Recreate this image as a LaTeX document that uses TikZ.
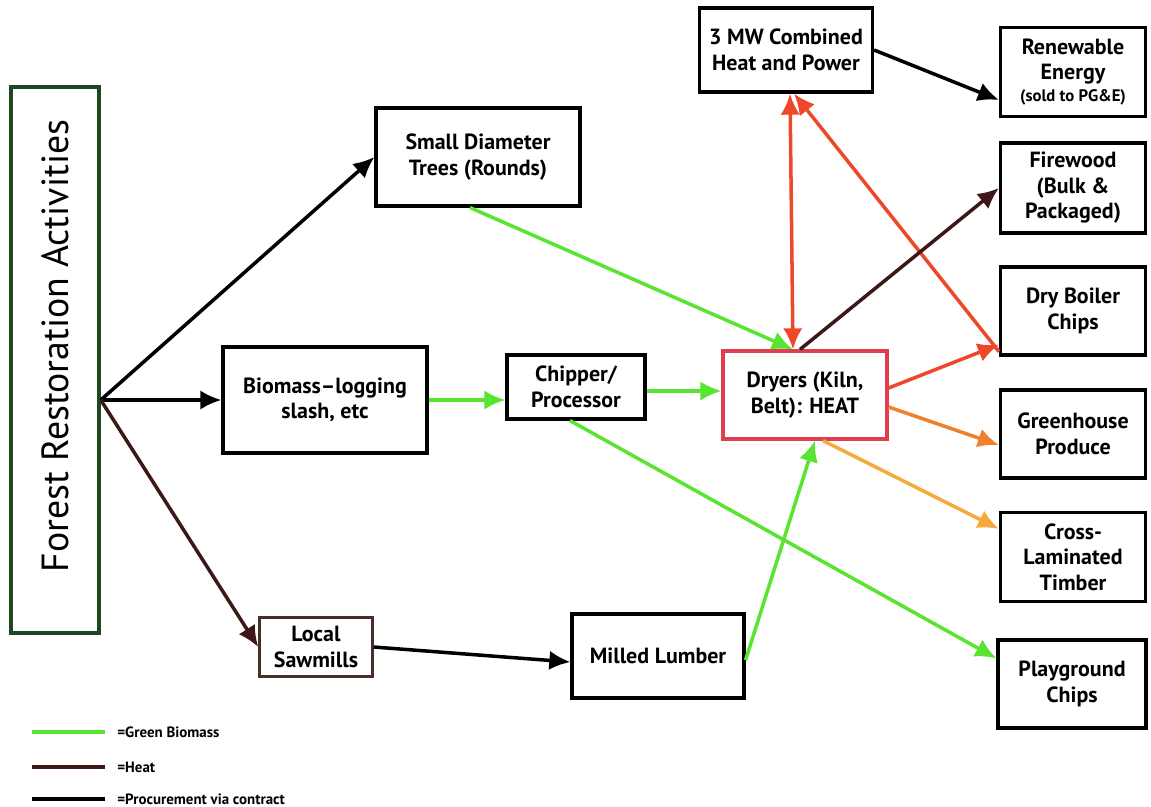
\documentclass[tikz,border=0pt]{standalone}
\usepackage{fontspec}
\setmainfont{PT Sans}
\usetikzlibrary{arrows.meta,calc}

\newlength{\upx}
\setlength{\upx}{0.02cm}

\definecolor{biogreen}{RGB}{88,228,48}
\definecolor{heatred}{RGB}{238,72,42}
\definecolor{heatorange}{RGB}{240,128,42}
\definecolor{lightorange}{RGB}{246,170,62}
\definecolor{heatbrown}{RGB}{62,24,22}
\definecolor{forestgreen}{RGB}{32,72,32}
\definecolor{dryerred}{RGB}{222,62,78}

\tikzset{
  box/.style={draw, line width=1.8pt, align=center, inner sep=2pt,
    font=\bfseries\fontsize{12.5}{14.5}\selectfont},
  arr/.style={line width=2pt, ->},
  legtext/.style={anchor=west, inner sep=0pt, font=\bfseries\fontsize{8.5}{9}\selectfont}
}

\begin{document}
\begin{tikzpicture}[x=0.02cm, y=-0.02cm, >={Latex[length=12pt,width=11pt]}]
\useasboundingbox (0,0) rectangle (1151,806);

\node[box, draw=forestgreen, line width=2pt, rotate=90, minimum width=546\upx, minimum height=88\upx,
  font=\fontsize{21.5}{23}\selectfont] (forest) at (55,360) {\hspace*{28\upx}Forest Restoration Activities};
\node[box, minimum width=204\upx, minimum height=98\upx] (small) at (478,157) {Small Diameter\\Trees (Rounds)};
\node[box, minimum width=204\upx, minimum height=106\upx] (biomass) at (325,400) {Biomass--logging\\slash, etc};
\node[box, minimum width=138\upx, minimum height=64\upx] (chipper) at (576,387) {Chipper/\\Processor};
\node[box, draw=dryerred, minimum width=164\upx, minimum height=88\upx] (dryers) at (805,395) {Dryers (Kiln,\\Belt): HEAT};
\node[box, draw=heatbrown!80!gray, line width=1.4pt, minimum width=113\upx, minimum height=59\upx] (sawmills) at (316,647) {Local\\Sawmills};
\node[box, minimum width=172\upx, minimum height=84\upx] (lumber) at (658,656) {Milled Lumber};
\node[box, minimum width=173\upx, minimum height=84\upx] (chp) at (786,50) {3 MW Combined\\Heat and Power};

\node[box, minimum width=145\upx, minimum height=89\upx] (renew) at (1073,72) {Renewable\\Energy\\[-2pt]{\fontsize{9.5}{10}\selectfont (sold to PG\&E)}};
\node[box, minimum width=145\upx, minimum height=90\upx] (fire) at (1073,188) {Firewood\\(Bulk \&\\Packaged)};
\node[box, minimum width=145\upx, minimum height=88\upx] (boiler) at (1073,311) {Dry Boiler\\Chips};
\node[box, minimum width=145\upx, minimum height=88\upx] (green) at (1073,434) {Greenhouse\\Produce};
\node[box, minimum width=145\upx, minimum height=89\upx] (clt) at (1073,557) {Cross-\\Laminated\\Timber};
\node[box, minimum width=148\upx, minimum height=88\upx] (play) at (1072,684) {Playground\\Chips};

\coordinate (hub) at (forest.south |- biomass.west);

\draw[arr] (hub) -- (small.west);
\draw[arr] (hub) -- (biomass.west);
\draw[arr, heatbrown] (hub) -- (sawmills.west);
\draw[arr] (sawmills.east) -- ($(lumber.west)+(0,6)$);
\draw[arr] (chp.east) -- ($(renew.west)+(0,28)$);

\draw[arr, biogreen] ($(small.south)+(-8,0)$) -- ($(dryers.north)+(-12,0)$);
\draw[arr, biogreen] (biomass.east) -- (chipper.west |- biomass.east);
\draw[arr, biogreen] (chipper.east |- 0,391) -- (dryers.west |- 0,391);
\draw[arr, biogreen] ($(chipper.south)+(-6,0)$) -- ($(play.north west)+(0,20)$);
\draw[arr, biogreen] ($(lumber.east)+(0,4)$) -- ($(dryers.south)+(10,0)$);

\draw[line width=2pt, heatred, <->] ($(chp.south)+(4,0)$) -- ($(dryers.north)+(-12,0)$);
\draw[arr, heatred] ($(boiler.south west)+(0,-5)$) -- ($(chp.south)+(8,0)$);
\draw[arr, heatbrown] ($(dryers.north)+(-5,0)$) -- (fire.west);
\draw[arr, heatred] ($(dryers.east)+(0,-7)$) -- ($(boiler.south west)+(0,-12)$);
\draw[arr, heatorange] ($(dryers.east)+(0,12)$) -- ($(green.west)+(0,11)$);
\draw[arr, lightorange] ($(dryers.south)+(18,0)$) -- ($(clt.north west)+(0,18)$);

\node[legtext] (lgreen) at (117,732) {=Green Biomass};
\node[legtext] (lheat) at (117,767) {=Heat};
\node[legtext] (lproc) at (117,799) {=Procurement via contract};
\coordinate (sgreen) at (32,732);
\coordinate (sheat) at (32,767);
\coordinate (sproc) at (32,799);
\draw[line width=2pt, biogreen] (sgreen) -- ($(lgreen.west)+(-12,0)$);
\draw[line width=2pt, heatbrown] (sheat) -- ($(lheat.west)+(-12,0)$);
\draw[line width=2.4pt] (sproc) -- ($(lproc.west)+(-12,0)$);
\end{tikzpicture}
\end{document}
